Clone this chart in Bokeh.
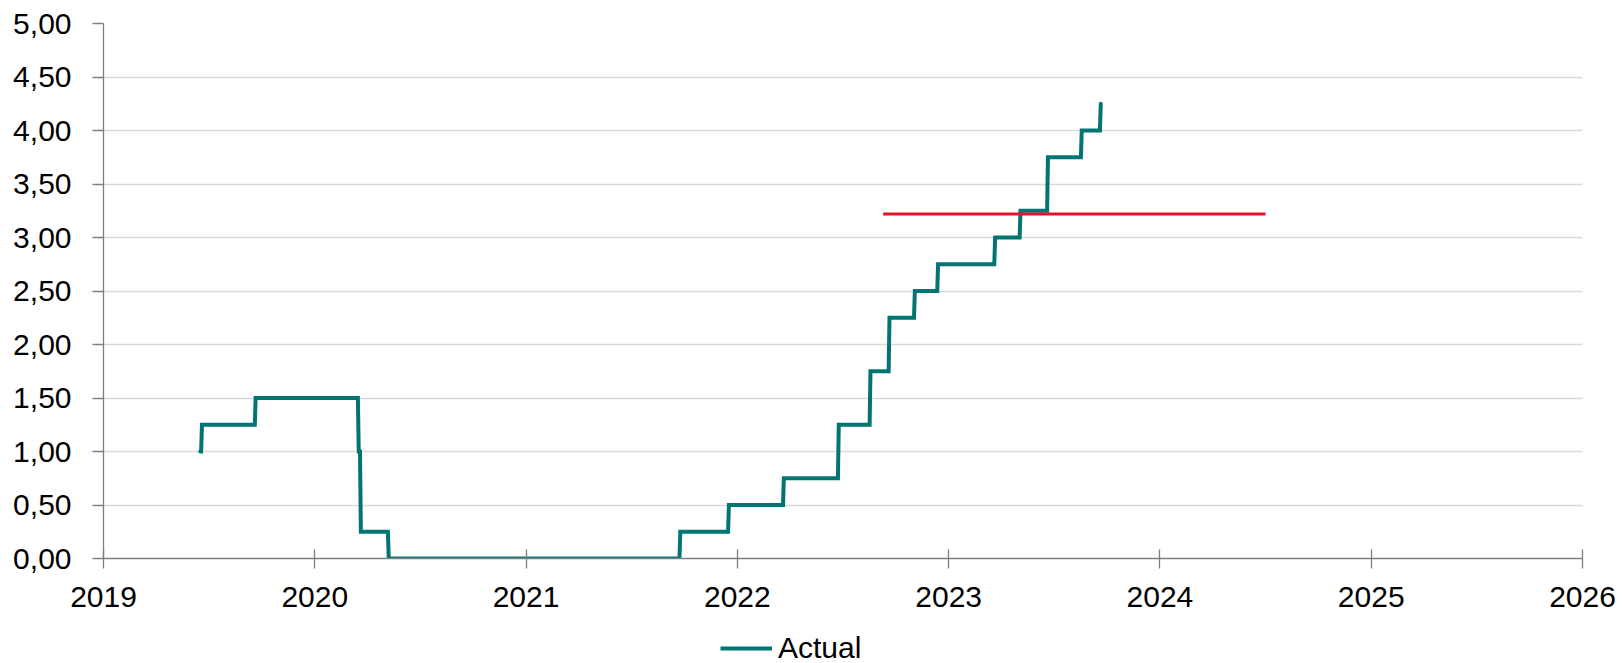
from bokeh.plotting import figure
from bokeh.layouts import column
from bokeh.models import FixedTicker, Legend, LegendItem, Range1d
from bokeh.embed import file_html
from bokeh.resources import INLINE

# Policy rate: dates (decimal years) at which the rate changes, and the new level
change_dates = [2019.458, 2019.466, 2019.72, 2020.208, 2020.218, 2020.35, 2021.73,
                2021.96, 2022.22, 2022.48, 2022.63, 2022.72, 2022.84, 2022.95,
                2023.22, 2023.34, 2023.47, 2023.63, 2023.72]
rates = [1.00, 1.25, 1.50, 1.00, 0.25, 0.00, 0.25,
         0.50, 0.75, 1.25, 1.75, 2.25, 2.50, 2.75,
         3.00, 3.25, 3.75, 4.00, 4.25]

# Reference level (red line)
ref_start, ref_end = 2022.69, 2024.50
ref_level = 3.22

x_ticks = [2019, 2020, 2021, 2022, 2023, 2024, 2025, 2026]
x_tick_labels = ["2019", "2020", "2021", "2022", "2023", "2024", "2025", "2026"]
y_ticks = [0.0, 0.5, 1.0, 1.5, 2.0, 2.5, 3.0, 3.5, 4.0, 4.5, 5.0]
y_tick_labels = ["0,00", "0,50", "1,00", "1,50", "2,00", "2,50", "3,00", "3,50",
                 "4,00", "4,50", "5,00"]

# Build the step path: each change is drawn as a near-vertical jump
step = 0.004
xs, ys = [change_dates[0]], [rates[0]]
for d, r in zip(change_dates[1:], rates[1:]):
    xs.append(d - step)
    ys.append(ys[-1])
    xs.append(d)
    ys.append(r)

FONT = "Liberation Sans"
FONT_SIZE = "30px"
TEAL = "#007572"
RED = "#E8112D"

MAIN_H = 612
p = figure(width=1624, height=MAIN_H, output_backend="svg", toolbar_location=None,
           x_range=Range1d(2019, 2026), y_range=Range1d(0, 5),
           min_border_left=103, min_border_right=42, min_border_top=23,
           min_border_bottom=MAIN_H - 558)
p.outline_line_color = None
p.background_fill_color = "white"
p.border_fill_color = "white"

p.line(xs, ys, line_color=TEAL, line_width=4, line_join="miter", line_cap="round")
p.line([ref_start, ref_end], [ref_level, ref_level], line_color=RED, line_width=3)

# Axes
p.xaxis.ticker = FixedTicker(ticks=x_ticks)
p.xaxis.major_label_overrides = {t: s for t, s in zip(x_ticks, x_tick_labels)}
p.yaxis.ticker = FixedTicker(ticks=y_ticks)
p.yaxis.major_label_overrides = {t: s for t, s in zip(y_ticks, y_tick_labels)}

for ax in (p.xaxis[0], p.yaxis[0]):
    ax.axis_line_color = "#7F7F7F"
    ax.axis_line_width = 1.3
    ax.major_tick_line_color = "#7F7F7F"
    ax.major_tick_line_width = 1.3
    ax.minor_tick_line_color = None
    ax.major_label_text_font = FONT
    ax.major_label_text_font_size = FONT_SIZE
    ax.major_label_text_color = "black"

p.xaxis.major_tick_in = 9
p.xaxis.major_tick_out = 10
p.xaxis.major_label_standoff = 18
p.yaxis.major_tick_in = 0
p.yaxis.major_tick_out = 11
p.yaxis.major_label_standoff = 21

p.xgrid.grid_line_color = None
p.ygrid.grid_line_color = "#D9D9D9"
p.ygrid.grid_line_width = 1.3

# Legend strip under the chart (its frame lines up with the chart frame)
leg = figure(width=1624, height=663 - MAIN_H, output_backend="svg",
             toolbar_location=None, x_axis_type=None, y_axis_type=None,
             x_range=Range1d(0, 1), y_range=Range1d(0, 1),
             min_border=0, min_border_left=0, min_border_right=0,
             min_border_top=0, min_border_bottom=0)
leg.outline_line_color = None
leg.xgrid.grid_line_color = None
leg.ygrid.grid_line_color = None
actual = leg.line([-10, -9], [-10, -9], line_color=TEAL, line_width=4)

legend = Legend(items=[LegendItem(label="Actual", renderers=[actual])],
                location=(617, -2), orientation="horizontal",
                border_line_color=None, background_fill_alpha=0,
                padding=0, margin=0, spacing=0,
                glyph_width=52, glyph_height=30, label_standoff=6,
                label_text_font=FONT, label_text_font_size=FONT_SIZE,
                label_text_color="black")
leg.add_layout(legend, "center")

layout = column(p, leg, spacing=0)
open("out.html", "w").write(file_html(layout, INLINE))
